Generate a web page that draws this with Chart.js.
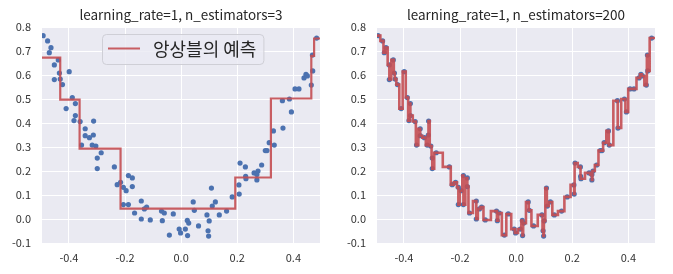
<!DOCTYPE html>
<html><head><meta charset="utf-8">
<script src="https://cdn.jsdelivr.net/npm/chart.js@4/dist/chart.umd.min.js"></script>
<style>
html,body{margin:0;padding:0;background:#fff;}
#wrap{position:relative;width:673px;height:274px;}
.c{position:absolute;top:0;height:274px;}
</style></head><body>
<div id="wrap">
<div class="c" style="left:0;width:336px"><canvas id="c1"></canvas></div>
<div class="c" style="left:336px;width:337px"><canvas id="c2"></canvas></div>
</div>
<script>
// training points (sorted by x)
const xData = [-0.492,-0.476,-0.470,-0.464,-0.452,-0.452,-0.438,-0.434,-0.431,-0.423,
 -0.410,-0.399,-0.388,-0.382,-0.377,-0.377,-0.360,-0.355,-0.342,-0.342,
 -0.327,-0.317,-0.313,-0.312,-0.304,-0.299,-0.299,-0.285,-0.238,-0.228,
 -0.216,-0.206,-0.206,-0.196,-0.188,-0.188,-0.174,-0.174,-0.166,-0.142,
 -0.142,-0.131,-0.123,-0.110,-0.070,-0.067,-0.060,-0.042,-0.028,-0.007,
 -0.002,0.015,0.022,0.023,0.027,0.043,0.047,0.062,0.092,0.096,
 0.098,0.100,0.108,0.111,0.122,0.136,0.162,0.182,0.206,0.207,
 0.210,0.229,0.230,0.231,0.260,0.270,0.270,0.274,0.287,0.300,
 0.306,0.314,0.329,0.332,0.361,0.363,0.386,0.393,0.406,0.420,
 0.438,0.445,0.450,0.464,0.468,0.469,0.483];
const yData = [0.764,0.742,0.693,0.714,0.642,0.581,0.663,0.608,0.583,0.560,
 0.460,0.614,0.506,0.410,0.481,0.431,0.406,0.308,0.376,0.347,
 0.339,0.308,0.350,0.408,0.304,0.254,0.210,0.276,0.217,0.143,
 0.153,0.132,0.060,0.118,0.181,0.060,0.171,0.135,0.025,0.075,
 0.000,0.042,0.050,-0.004,0.033,-0.007,0.025,-0.067,0.021,-0.042,
 -0.058,-0.042,-0.006,-0.069,-0.017,0.071,0.036,-0.029,0.017,-0.049,
 -0.071,-0.008,0.129,0.054,0.071,0.017,0.033,0.092,0.142,0.104,
 0.233,0.217,0.178,0.168,0.192,0.185,0.163,0.200,0.225,0.285,
 0.285,0.318,0.367,0.308,0.493,0.379,0.500,0.446,0.542,0.542,
 0.588,0.603,0.596,0.558,0.683,0.617,0.754];
// ensemble prediction, 3 estimators (left edges of steps and step values)
const predX3 = [-0.496,-0.431,-0.362,-0.216,0.193,0.320,0.464,0.474,0.495];
const predY3 = [0.672,0.497,0.293,0.043,0.173,0.502,0.680,0.752,0.752];
// ensemble prediction, 200 estimators: reproduces the training targets,
// held flat out to the plot edges
const predX200 = [-0.496, ...xData, 0.495];
const predY200 = [0.764, ...yData, 0.754];

const xTicks = [-0.4,-0.2,0.0,0.2,0.4];
const yTicks = [-0.1,0.0,0.1,0.2,0.3,0.4,0.5,0.6,0.7,0.8];
const titles = ["learning_rate=1, n_estimators=3","learning_rate=1, n_estimators=200"];
const legendLabel = "앙상블의 예측";

const F = '"Noto Sans CJK KR","Noto Sans",sans-serif';
const RED = 'rgba(196,78,82,0.9)';
const BLUE = '#4C72B0';

const bgPlugin = {id:'bg', beforeDraw(chart){
  const {ctx, chartArea:a} = chart;
  ctx.save(); ctx.fillStyle = '#EAEAF2';
  ctx.fillRect(a.left, a.top, a.right-a.left, a.bottom-a.top);
  ctx.restore();
}};
const titlePlugin = {id:'ttl', afterDraw(chart){
  const {ctx, chartArea:a} = chart;
  ctx.save();
  ctx.font = '13.5px ' + F; ctx.fillStyle = '#262626';
  ctx.textAlign = 'center'; ctx.textBaseline = 'middle';
  ctx.fillText(chart.options.plugins.ttl.text, (a.left+a.right)/2, 15);
  ctx.restore();
}};
const legendPlugin = {id:'lg', afterDraw(chart){
  const o = chart.options.plugins.lg;
  if (!o || !o.show) return;
  const {ctx, chartArea:a} = chart;
  const ds = chart.data.datasets.find(d => d.label);
  ctx.save();
  const x0 = a.left + 60, y0 = a.top + 7, h = 30;
  ctx.font = '18px ' + F;
  const tw = ctx.measureText(ds.label).width;
  const w = 51 + tw + 7;
  ctx.beginPath();
  ctx.roundRect(x0+0.5, y0+0.5, w, h, 4);
  ctx.fillStyle = 'rgba(234,234,242,0.8)'; ctx.fill();
  ctx.strokeStyle = '#cfcfd6'; ctx.lineWidth = 1; ctx.stroke();
  ctx.beginPath(); ctx.moveTo(x0+6, y0+14.5); ctx.lineTo(x0+38, y0+14.5);
  ctx.strokeStyle = ds.borderColor; ctx.lineWidth = 2; ctx.stroke();
  ctx.fillStyle = '#262626'; ctx.textAlign = 'left'; ctx.textBaseline = 'middle';
  ctx.fillText(ds.label, x0+51, y0+15);
  ctx.restore();
}};

function scales(yW){
  return {
    x:{type:'linear', min:-0.496, max:0.495,
      afterBuildTicks:s=>{s.ticks = xTicks.map(v=>({value:v}));},
      afterFit:s=>{s.height = 31;},
      grid:{color:'#ffffff', lineWidth:1, drawTicks:false},
      border:{display:false},
      ticks:{padding:8, color:'#333', font:{family:F, size:11}, maxRotation:0, autoSkip:false,
        callback:v=>Number(v).toFixed(1)}},
    y:{type:'linear', min:-0.1, max:0.8,
      afterBuildTicks:s=>{s.ticks = yTicks.map(v=>({value:v}));},
      afterFit:s=>{s.width = yW;},
      grid:{color:'#ffffff', lineWidth:1, drawTicks:false},
      border:{display:false},
      ticks:{padding:11, color:'#333', font:{family:F, size:11}, autoSkip:false,
        callback:v=>Number(v).toFixed(1)}}
  };
}
const pts = xData.map((x,i)=>({x, y:yData[i]}));

function make(id, lineData, stepped, yW, rightPad, title, showLegend, lw){
  new Chart(document.getElementById(id), {
    type:'scatter',
    data:{datasets:[
      {type:'line', label: showLegend ? legendLabel : '', data:lineData, stepped,
       borderColor:RED, borderWidth:lw, pointRadius:0, fill:false, order:0},
      {data:pts, backgroundColor:BLUE, borderWidth:0, pointRadius:2.6, order:1}
    ]},
    options:{responsive:true, maintainAspectRatio:false, animation:false, devicePixelRatio:1,
      layout:{padding:{top:27, right:rightPad, left:0, bottom:0}},
      scales:scales(yW),
      plugins:{legend:{display:false}, tooltip:{enabled:false}, title:{display:false},
        ttl:{text:title}, lg:{show:showLegend}}},
    plugins:[bgPlugin, titlePlugin, legendPlugin]
  });
}
make('c1', predX3.map((x,i)=>({x, y:predY3[i]})), 'before', 42, 16, titles[0], true, 2.2);
make('c2', predX200.map((x,i)=>({x, y:predY200[i]})), 'middle', 41, 18, titles[1], false, 2.6);
</script>
</body></html>
